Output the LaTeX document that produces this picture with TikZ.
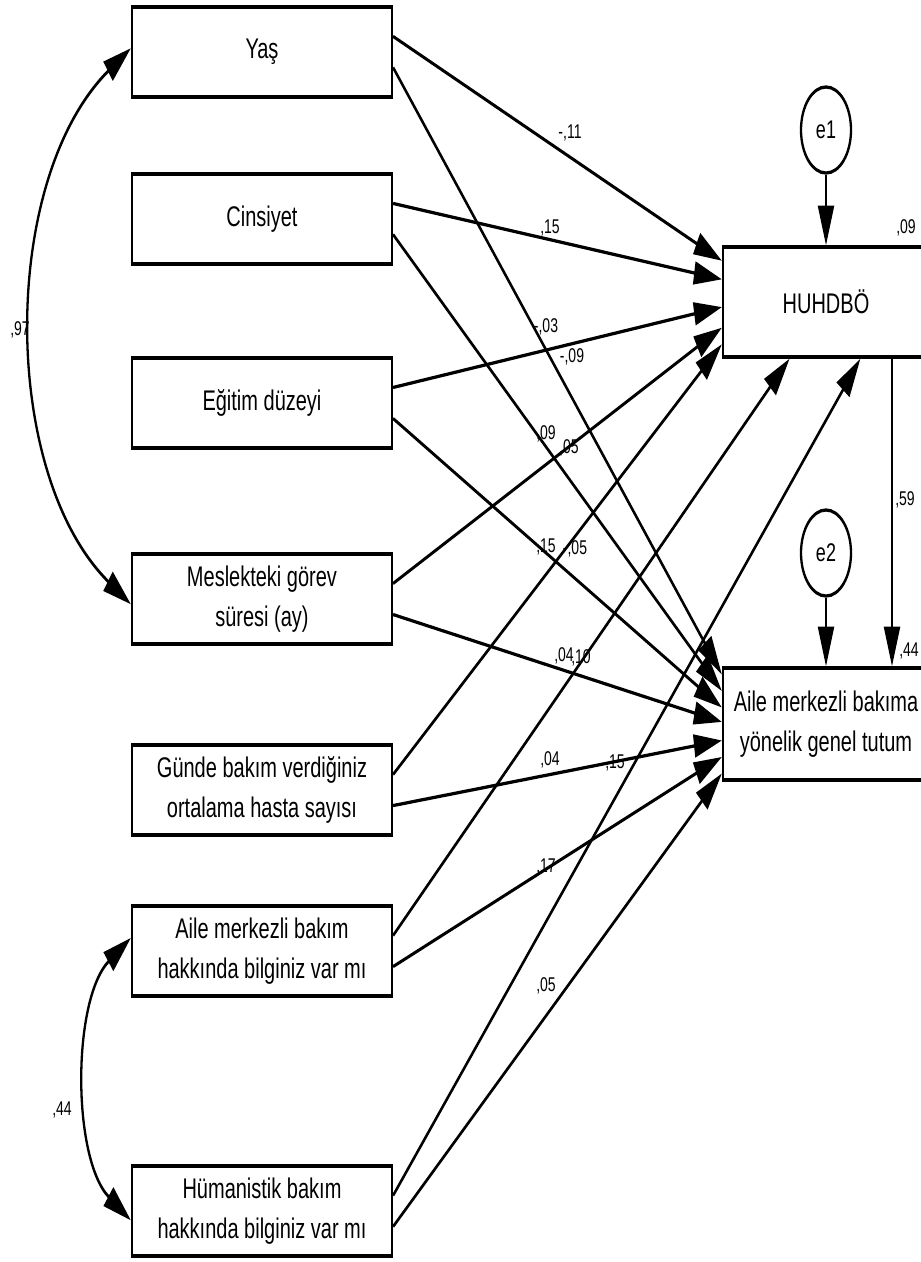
\documentclass[tikz,border=0pt]{standalone}
\usepackage{fontspec}
\setmainfont{Liberation Sans}
\usetikzlibrary{arrows.meta,calc,shapes.geometric}
\begin{document}
\begin{tikzpicture}[x=1pt,y=-1pt]
\fill[white] (0,0) rectangle (921,1262);
\useasboundingbox (0,0) rectangle (921,1262);
\begin{scope}[transform canvas={yscale=1.42}, x=1pt, y=-0.70423pt,
  box/.style={draw, line width=2.3pt, minimum width=260pt, minimum height=63.4pt,
    inner sep=0pt, align=center, font=\fontsize{20}{28.2}\selectfont},
  err/.style={draw, ellipse, line width=2.3pt, minimum width=50pt, minimum height=60.6pt,
    inner sep=0pt, font=\fontsize{18}{20}\selectfont},
  arr/.style={line width=2.3pt, -{Triangle[length=28pt,width=16pt]}},
  cov/.style={line width=2.3pt, {Triangle[length=28pt,width=16pt]}-{Triangle[length=28pt,width=16pt]}},
  lab/.style={inner sep=0pt, font=\fontsize{14}{16}\selectfont}]

% exogenous boxes
\node[box] (yas)  at (262,52)   {Yaş};
\node[box] (cins) at (262,219)  {Cinsiyet};
\node[box] (egit) at (262,403)  {Eğitim düzeyi};
\node[box] (mesl) at (262,599)  {Meslekteki görev\\süresi (ay)};
\node[box] (gun)  at (262,790)  {Günde bakım verdiğiniz\\ortalama hasta sayısı};
\node[box] (amb)  at (262,951)  {Aile merkezli bakım\\hakkında bilginiz var mı};
\node[box] (hum)  at (262,1211) {Hümanistik bakım\\hakkında bilginiz var mı};

% endogenous boxes
\node[box, minimum width=206pt, minimum height=77.5pt] (H) at (826,302) {HUHDBÖ};
\node[box, minimum width=206pt, minimum height=78.9pt] (A) at (826,724) {Aile merkezli bakıma\\yönelik genel tutum};

% error terms
\node[err] (e1) at (826,130) {e1};
\node[err] (e2) at (826,553) {e2};

% source points
\foreach \n in {yas,cins,egit,mesl,gun,amb,hum} {
  \coordinate (\n-h) at ($(\n.north east)!1/3!(\n.south east)$);
  \coordinate (\n-a) at ($(\n.north east)!2/3!(\n.south east)$);
}
% targets on HUHDBÖ
\coordinate (H1) at ($(H.north west)!0.136!(H.south west)$);
\coordinate (H2) at ($(H.north west)!0.30!(H.south west)$);
\coordinate (H3) at ($(H.north west)!0.545!(H.south west)$);
\coordinate (H4) at ($(H.north west)!0.727!(H.south west)$);
\coordinate (H5) at ($(H.north west)!0.873!(H.south west)$);
\coordinate (H6) at ($(H.south west)!0.325!(H.south east)$);
\coordinate (H7) at ($(H.south west)!0.665!(H.south east)$);
% targets on Aile merkezli bakima
\coordinate (A1) at ($(A.north west)!0.071!(A.south west)$);
\coordinate (A2) at ($(A.north west)!0.214!(A.south west)$);
\coordinate (A3) at ($(A.north west)!0.357!(A.south west)$);
\coordinate (A4) at ($(A.north west)!0.482!(A.south west)$);
\coordinate (A5) at ($(A.north west)!0.643!(A.south west)$);
\coordinate (A6) at ($(A.north west)!0.786!(A.south west)$);
\coordinate (A7) at ($(A.north west)!0.929!(A.south west)$);
% H -> A
\coordinate (Hout) at ([xshift=66pt]H.south);
\coordinate (Ain)  at ([xshift=66pt]A.north);

% paths to HUHDBÖ
\draw[arr] (yas-h)  -- (H1);
\draw[arr] (cins-h) -- (H2);
\draw[arr] (egit-h) -- (H3);
\draw[arr] (mesl-h) -- (H4);
\draw[arr] (gun-h)  -- (H5);
\draw[arr] (amb-h)  -- (H6);
\draw[arr] (hum-h)  -- (H7);
% paths to Aile merkezli bakima
\draw[arr] (yas-a)  -- (A1);
\draw[arr] (cins-a) -- (A2);
\draw[arr] (egit-a) -- (A3);
\draw[arr] (mesl-a) -- (A4);
\draw[arr] (gun-a)  -- (A5);
\draw[arr] (amb-a)  -- (A6);
\draw[arr] (hum-a)  -- (A7);

\draw[arr] (e1) -- (H);
\draw[arr] (e2) -- (A);
\draw[arr] (Hout) -- (Ain);

% covariances
\coordinate (yasL)  at ($(yas.north west)!0.46!(yas.south west)$);
\coordinate (meslL) at ($(mesl.north west)!0.556!(mesl.south west)$);
\coordinate (ambL)  at ($(amb.north west)!0.36!(amb.south west)$);
\coordinate (humL)  at ($(hum.north west)!0.60!(hum.south west)$);
\draw[cov] (yasL) .. controls (0,180) and (0,473) .. (meslL);
\draw[cov] (ambL) .. controls (72,1000) and (72,1158) .. (humL);

% labels
\node[lab] (l1)  at (570,133) {-,11};
\node[lab] (l2)  at (550,228) {,15};
\node[lab] (l3)  at (546,327) {-,03};
\node[lab] (l4)  at (572,357) {-,09};
\node[lab] (l5)  at (546,434) {,09};
\node[lab] (l6)  at (569,448) {,05};
\node[lab] (l7)  at (546,547) {,15};
\node[lab] (l8)  at (575,549) {-,05};
\node[lab] (l9)  at (564,656) {,04};
\node[lab] (l10) at (581,658) {,10};
\node[lab] (l11) at (550,760) {,04};
\node[lab] (l12) at (615,763) {,15};
\node[lab] (l13) at (546,867) {,17};
\node[lab] (l14) at (546,986) {,05};
\node[lab] (r1)  at (906,228) {,09};
\node[lab] (r2)  at (905,500) {,59};
\node[lab] (r3)  at (909,651) {,44};
\node[lab] (c1)  at (20,330)  {,97};
\node[lab] (c2)  at (62,1110) {,44};
\end{scope}
\end{tikzpicture}
\end{document}
